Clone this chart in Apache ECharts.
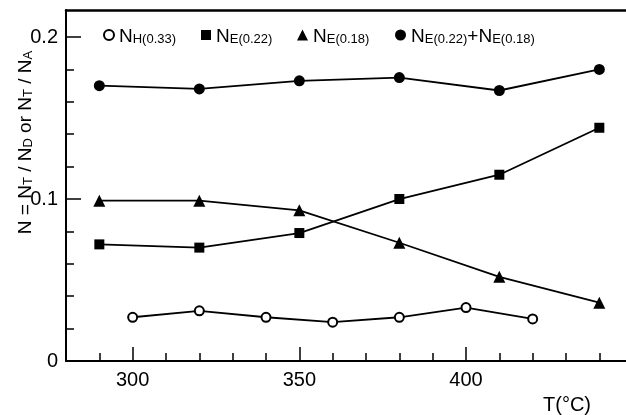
<!DOCTYPE html>
<html>
<head>
<meta charset="utf-8">
<script src="https://cdn.jsdelivr.net/npm/echarts@6/dist/echarts.min.js"></script>
<style>
  html, body { margin: 0; padding: 0; background: #fff; }
  #chart { width: 626px; height: 415px; }
</style>
</head>
<body>
<div id="chart"></div>
<script>
// temperatures (°C)
var tempsH = [300, 320, 340, 360, 380, 400, 420];
var tempsE = [290, 320, 350, 380, 410, 440];
// trap concentrations
var nH033 = [0.027, 0.031, 0.027, 0.024, 0.027, 0.033, 0.026];
var nE022 = [0.072, 0.070, 0.079, 0.100, 0.115, 0.144];
var nE018 = [0.099, 0.099, 0.093, 0.073, 0.052, 0.036];
var nSum = [0.170, 0.168, 0.173, 0.175, 0.167, 0.180];
// ticks
var xMinor = [290, 310, 320, 330, 340, 360, 370, 380, 390, 410, 420, 430, 440];
var xMajor = [300, 350, 400];
var yMinor = [0.02, 0.04, 0.06, 0.08, 0.12, 0.14, 0.16, 0.18];
var yMajor = [0, 0.1, 0.2];

var FONT = 'Liberation Sans';
var rich = {
  n: { fontSize: 19, fontFamily: FONT, color: '#000', lineHeight: 22, verticalAlign: 'bottom' },
  s: { fontSize: 13, fontFamily: FONT, color: '#000', lineHeight: 12, verticalAlign: 'bottom' }
};
var richY = {
  n: { fontSize: 19, fontFamily: FONT, color: '#000', lineHeight: 23, verticalAlign: 'bottom' },
  s: { fontSize: 13, fontFamily: FONT, color: '#000', lineHeight: 12, verticalAlign: 'bottom' }
};
var legendText = {
  H: '{n|N}{s|H(0.33)}',
  E22: '{n|N}{s|E(0.22)}',
  E18: '{n|N}{s|E(0.18)}',
  SUM: '{n|N}{s|E(0.22)}{n|+N}{s|E(0.18)}'
};

function pairs(xs, ys) {
  return xs.map(function (x, i) { return [x, ys[i]]; });
}

function legendAt(left, name, icon, size) {
  return {
    left: left, top: 27, padding: 0, selectedMode: false,
    itemWidth: size, itemHeight: size,
    data: [{ name: name, icon: icon }],
    formatter: function (n) { return legendText[n]; },
    textStyle: { rich: rich }
  };
}

function lineSeries(name, xs, ys, symbol, size) {
  return {
    name: name, type: 'line', data: pairs(xs, ys),
    symbol: symbol, symbolSize: size,
    lineStyle: { color: '#000', width: 1.8 },
    itemStyle: { color: '#000', borderColor: '#000', borderWidth: symbol === 'emptyCircle' ? 2 : 0 },
    animation: false
  };
}

var chart = echarts.init(document.getElementById('chart'));
chart.setOption({
  animation: false,
  textStyle: { fontFamily: FONT },
  grid: { left: 66, right: 0, top: 10, bottom: 54, containLabel: false, outerBoundsMode: 'none' },
  legend: [
    legendAt(103, 'H', 'emptyCircle', 10),
    legendAt(201, 'E22', 'rect', 10),
    legendAt(297, 'E18', 'triangle', 11),
    legendAt(395, 'SUM', 'circle', 11)
  ],
  xAxis: [{
    type: 'value', min: 280, max: 448, position: 'bottom',
    axisLine: { lineStyle: { color: '#000', width: 2 } },
    axisTick: { inside: true, length: 8, customValues: xMinor, lineStyle: { color: '#000', width: 1.5 } },
    axisLabel: { customValues: xMajor, color: '#000', fontSize: 20, margin: 9 },
    splitLine: { show: false },
    name: 'T(°C)', nameLocation: 'end', nameGap: -83, nameMoveOverlap: false,
    nameTextStyle: { color: '#000', fontSize: 20, align: 'left', verticalAlign: 'top', padding: [34, 0, 0, 0] }
  }, {
    type: 'value', min: 280, max: 448, position: 'bottom',
    axisLine: { show: false },
    axisTick: { inside: true, length: 14, customValues: xMajor, lineStyle: { color: '#000', width: 1.5 } },
    axisLabel: { show: false },
    splitLine: { show: false }
  }, {
    type: 'value', min: 280, max: 448, position: 'top',
    axisLine: { lineStyle: { color: '#000', width: 2.5 } },
    axisTick: { show: false },
    axisLabel: { show: false },
    splitLine: { show: false }
  }],
  yAxis: [{
    type: 'value', min: 0, max: 0.2167, position: 'left',
    axisLine: { lineStyle: { color: '#000', width: 2 } },
    axisTick: { inside: true, length: 8, customValues: yMinor, lineStyle: { color: '#000', width: 1.5 } },
    axisLabel: { customValues: yMajor, color: '#000', fontSize: 20, margin: 8 },
    splitLine: { show: false },
    name: '{n|N = N}{s|T}{n| / N}{s|D}{n| or N}{s|T}{n| / N}{s|A}',
    nameLocation: 'middle', nameGap: 31, nameMoveOverlap: false,
    nameTextStyle: { padding: [0, 0, 0, 86], rich: richY }
  }, {
    type: 'value', min: 0, max: 0.2167, position: 'left',
    axisLine: { show: false },
    axisTick: { inside: true, length: 15, customValues: [0.1, 0.2], lineStyle: { color: '#000', width: 1.5 } },
    axisLabel: { show: false },
    splitLine: { show: false }
  }],
  series: [
    lineSeries('H', tempsH, nH033, 'emptyCircle', 9),
    lineSeries('E22', tempsE, nE022, 'rect', 10),
    lineSeries('E18', tempsE, nE018, 'triangle', 12),
    lineSeries('SUM', tempsE, nSum, 'circle', 11)
  ]
});
</script>
</body>
</html>
